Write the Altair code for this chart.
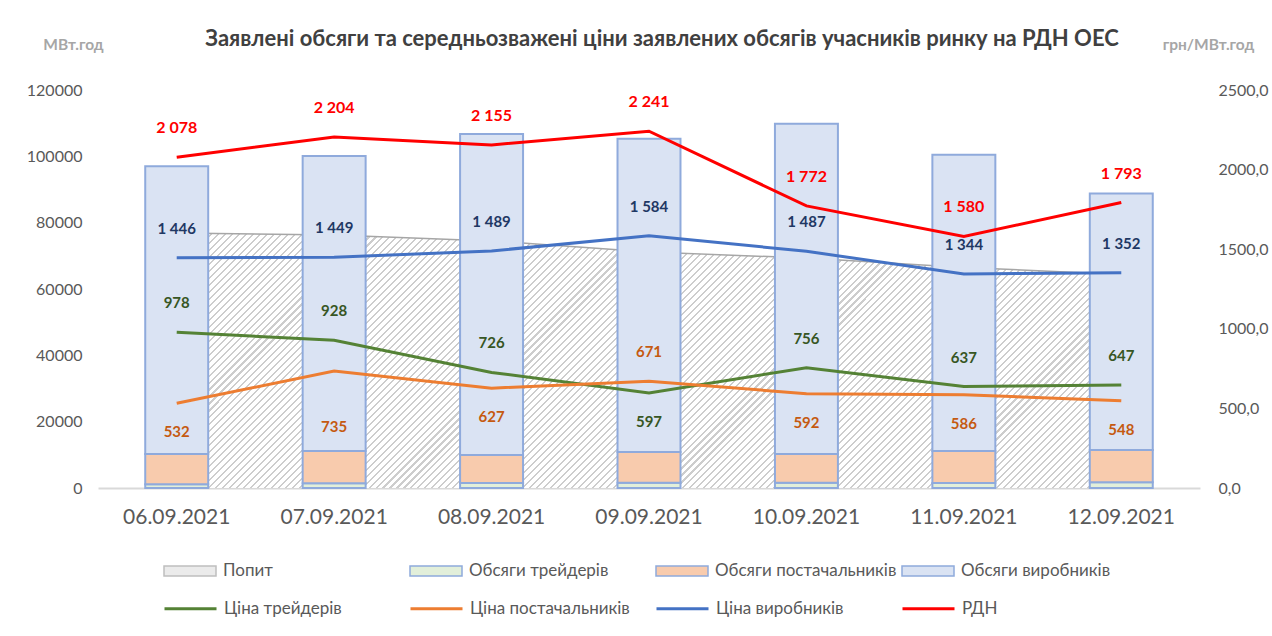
import altair as alt
import pandas as pd

# ---------------- data ----------------
dates = ["06.09.2021", "07.09.2021", "08.09.2021", "09.09.2021",
         "10.09.2021", "11.09.2021", "12.09.2021"]

demand = [76900, 76300, 74500, 71150, 69350, 66500, 64400]
vol_traders = [1100, 1400, 1500, 1600, 1600, 1500, 1700]
vol_suppliers = [9150, 9750, 8450, 9250, 8650, 9650, 9750]
vol_producers = [86750, 88950, 96750, 94450, 99550, 89350, 77350]

price_traders = [978, 928, 726, 597, 756, 637, 647]
price_suppliers = [532, 735, 627, 671, 592, 586, 548]
price_producers = [1446, 1449, 1489, 1584, 1487, 1344, 1352]
price_rdn = [2078, 2204, 2155, 2241, 1772, 1580, 1793]

vol_kinds = ["Попит", "Обсяги трейдерів", "Обсяги постачальників", "Обсяги виробників"]
price_kinds = ["Ціна трейдерів", "Ціна постачальників", "Ціна виробників", "РДН"]

# where each price label sits relative to its line: "above", "below", "far_below"
label_place = {
    "Ціна трейдерів": ["above", "above", "above", "below", "above", "above", "above"],
    "Ціна постачальників": ["below", "far_below", "below", "above", "below", "below", "below"],
    "Ціна виробників": ["above"] * 7,
    "РДН": ["above"] * 7,
}
place_dy = {"above": -29, "below": 29, "far_below": 56}

# ---------------- tables ----------------
bar_rows = []
for kind, vals, o in [("Обсяги трейдерів", vol_traders, 1),
                      ("Обсяги постачальників", vol_suppliers, 2),
                      ("Обсяги виробників", vol_producers, 3)]:
    for d, v in zip(dates, vals):
        bar_rows.append({"date": d, "kind": kind, "value": v, "ord": o})
bars_df = pd.DataFrame(bar_rows)

demand_df = pd.DataFrame({"date": dates, "value": demand, "kind": "Попит"})

price_rows = []
for kind, vals in zip(price_kinds, [price_traders, price_suppliers, price_producers, price_rdn]):
    for d, v, pl in zip(dates, vals, label_place[kind]):
        price_rows.append({"date": d, "series": kind, "price": v,
                           "label": f"{v:,}".replace(",", " "),
                           "place": pl})
price_df = pd.DataFrame(price_rows)

# ---------------- styles ----------------
FONT = "Lato"
TXT = "#595959"

x_enc = alt.X("date:N", sort=dates,
              scale=alt.Scale(paddingInner=0.6, paddingOuter=0.3),
              axis=alt.Axis(title=None, labelAngle=0, labelFont=FONT, labelFontSize=21,
                            labelColor=TXT, labelPadding=18, ticks=False, grid=False,
                            domain=True, domainColor="#d9d9d9", domainWidth=2))

left_axis = alt.Axis(title="МВт.год", titleAngle=0, titleX=-25, titleY=-46,
                     titleAlign="center", titleBaseline="middle", titleFont=FONT,
                     titleFontSize=15.5, titleFontWeight="bold", titleColor="#a6a6a6",
                     values=[0, 20000, 40000, 60000, 80000, 100000, 120000],
                     format="d", labelFont=FONT, labelFontSize=16, labelColor=TXT,
                     labelPadding=16, ticks=False, domain=False, grid=False)

right_axis = alt.Axis(orient="right", title="грн/МВт.год", titleAngle=0, titleX=8,
                      titleY=-46, titleAlign="center", titleBaseline="middle",
                      titleFont=FONT, titleFontSize=15.5, titleFontWeight="bold",
                      titleColor="#a6a6a6", values=[0, 500, 1000, 1500, 2000, 2500],
                      labelExpr="replace(format(datum.value, '.1f'), '.', ',')",
                      labelFont=FONT, labelFontSize=16, labelColor=TXT,
                      labelPadding=18, ticks=False, domain=False, grid=False)

vol_scale = alt.Scale(domain=[0, 120000], nice=False)
price_scale = alt.Scale(domain=[0, 2500], nice=False)

# hatch imitation with a striped linear gradient
n_stripes = 172
p = 1.0 / n_stripes
stops = []
for i in range(n_stripes):
    a = i * p
    b = a + 0.3 * p
    c = min(a + p, 1.0)
    stops += [{"offset": round(a, 6), "color": "#cdcdcd"},
              {"offset": round(b, 6), "color": "#cdcdcd"},
              {"offset": round(b, 6), "color": "#ffffff"},
              {"offset": round(c, 6), "color": "#ffffff"}]
k = 0.27
s = (1 + k) / (1 + k * k)
hatch = alt.LinearGradient(gradient="linear", x1=0, y1=0, x2=s, y2=s * k, stops=stops)

fill_legend = alt.Legend(title=None, orient="none", legendX=65, legendY=454, direction="horizontal",
                         columns=4, gridAlign="all", columnPadding=2,
                         symbolType="M-1,-0.19H1V0.19H-1Z", symbolSize=2704,
                         symbolStrokeWidth=1.5, labelFont=FONT, labelFontSize=17,
                         labelColor=TXT, labelOffset=6, labelLimit=300)

line_legend = alt.Legend(title=None, orient="none", legendX=65, legendY=491, direction="horizontal",
                         columns=4, gridAlign="all", columnPadding=20,
                         symbolType="M-1,0H1", symbolSize=2704, symbolStrokeWidth=3,
                         labelFont=FONT, labelFontSize=17, labelColor=TXT,
                         labelOffset=6, labelLimit=300)

fill_scale = alt.Scale(domain=vol_kinds, range=["#ebebeb", "#e2efda", "#f8cbad", "#dae3f3"])
stroke_scale = alt.Scale(domain=vol_kinds, range=["#bfbfbf", "#8faadc", "#8faadc", "#8faadc"])

# ---------------- volume layers ----------------
area = alt.Chart(demand_df).mark_area(fill=hatch, opacity=1).encode(
    x=x_enc, y=alt.Y("value:Q", stack=None, scale=vol_scale, axis=left_axis))
area_line = alt.Chart(demand_df).mark_line(color="#a6a6a6", strokeWidth=1.5).encode(
    x=x_enc, y=alt.Y("value:Q", scale=vol_scale, axis=left_axis))

bars = alt.Chart(bars_df).mark_bar(strokeWidth=2).encode(
    x=x_enc,
    y=alt.Y("value:Q", stack="zero", scale=vol_scale, axis=left_axis),
    fill=alt.Fill("kind:N", scale=fill_scale, legend=fill_legend),
    stroke=alt.Stroke("kind:N", scale=stroke_scale, legend=fill_legend),
    order=alt.Order("ord:Q", sort="ascending"),
)

volumes = alt.layer(area, area_line, bars)

# ---------------- price layers ----------------
line_scale = alt.Scale(domain=price_kinds, range=["#548235", "#ed7d31", "#4472c4", "#ff0000"])
sw_scale = alt.Scale(domain=price_kinds, range=[3, 3, 3.5, 2])

lines = alt.Chart(price_df).mark_line().encode(
    x=x_enc,
    y=alt.Y("price:Q", scale=price_scale, axis=right_axis),
    color=alt.Color("series:N", scale=line_scale, legend=line_legend),
    strokeWidth=alt.StrokeWidth("series:N", scale=sw_scale, legend=None),
)

label_colors = {"Ціна трейдерів": "#375623", "Ціна постачальників": "#c55a11",
                "Ціна виробників": "#1f3864", "РДН": "#ff0000"}

text_layers = []
for kind in price_kinds:
    fs = 16 if kind == "РДН" else 15
    for pl in sorted(set(label_place[kind])):
        t = alt.Chart(price_df).transform_filter(
            (alt.datum.series == kind) & (alt.datum.place == pl)
        ).mark_text(font=FONT, fontSize=fs, fontWeight="bold", color=label_colors[kind],
                    dy=place_dy[pl], baseline="middle").encode(
            x=x_enc,
            y=alt.Y("price:Q", scale=price_scale, axis=right_axis),
            text="label:N",
        )
        text_layers.append(t)

prices = alt.layer(lines, *text_layers)

chart = alt.layer(volumes, prices).resolve_scale(y="independent").properties(
    width=1102, height=398,
    background="white",
    autosize=alt.AutoSizeParams(type="none"),
    padding={"left": 98, "top": 90, "right": 72, "bottom": 148},
    title=alt.TitleParams(
        "Заявлені обсяги та середньозважені ціни заявлених обсягів учасників ринку на РДН ОЕС",
        font=FONT, fontSize=22, fontWeight="bold", color="#404040",
        anchor="middle", offset=-14, dx=13),
).configure_view(
    stroke="transparent", strokeWidth=0
).configure_axisY(
    domain=False, grid=False, ticks=False
)

chart.save("out.html", embed_options={"renderer": "svg", "actions": False})
